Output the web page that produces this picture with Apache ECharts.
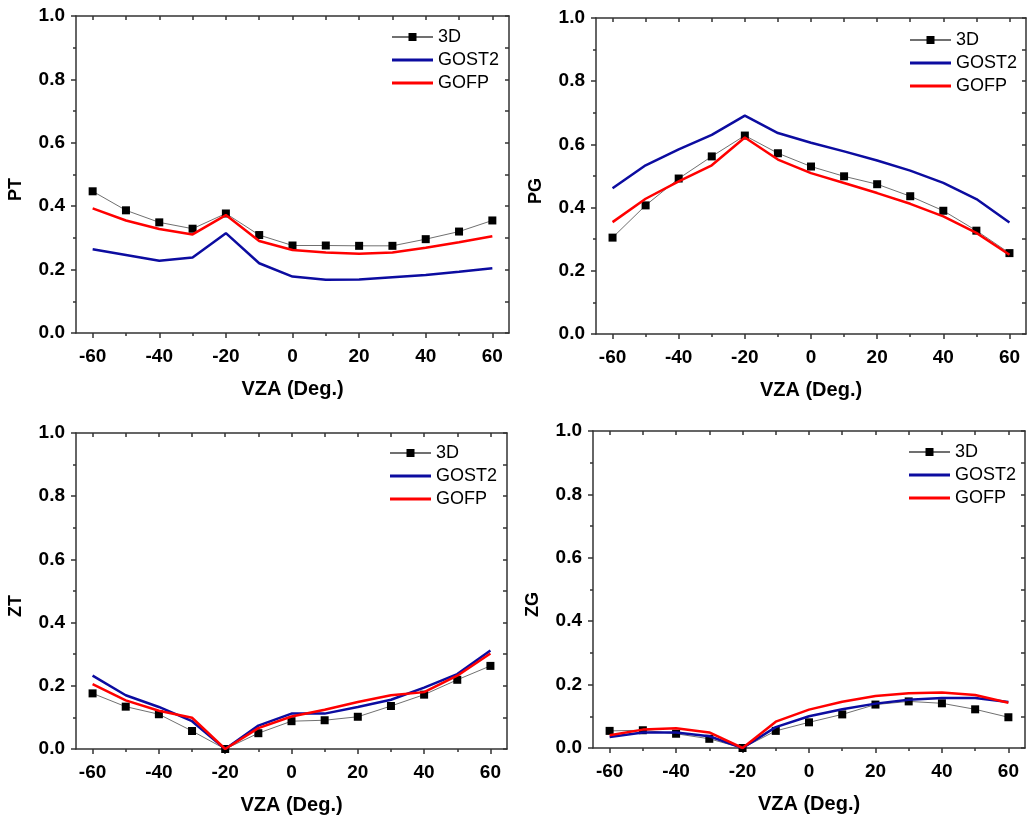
<!DOCTYPE html>
<html><head><meta charset="utf-8">
<script src="https://cdn.jsdelivr.net/npm/echarts@6/dist/echarts.min.js"></script>
<style>html,body{margin:0;padding:0;background:#fff}#c{width:1029px;height:817px}</style>
</head><body><div id="c"></div>
<script>
// ---- data ----
const vza = [-60, -50, -40, -30, -20, -10, 0, 10, 20, 30, 40, 50, 60];
const xMajorTicks = [-60, -40, -20, 0, 20, 40, 60];
const xMinorTicks = [-50, -30, -10, 10, 30, 50];
const seriesNames = ['3D', 'GOST2', 'GOFP'];
const panelNames = ['PT', 'PG', 'ZT', 'ZG'];
const xName = 'VZA (Deg.)';

const pt3D    = [0.447, 0.387, 0.349, 0.329, 0.377, 0.309, 0.276, 0.276, 0.275, 0.275, 0.296, 0.320, 0.355];
const ptGOST2 = [0.264, 0.246, 0.228, 0.238, 0.315, 0.220, 0.178, 0.168, 0.169, 0.176, 0.183, 0.193, 0.204];
const ptGOFP  = [0.393, 0.355, 0.328, 0.311, 0.372, 0.290, 0.262, 0.254, 0.250, 0.254, 0.269, 0.286, 0.305];

const pg3D    = [0.305, 0.407, 0.492, 0.562, 0.628, 0.572, 0.530, 0.499, 0.474, 0.436, 0.390, 0.327, 0.256];
const pgGOST2 = [0.461, 0.534, 0.584, 0.630, 0.691, 0.636, 0.605, 0.578, 0.549, 0.517, 0.478, 0.427, 0.353];
const pgGOFP  = [0.354, 0.428, 0.483, 0.534, 0.622, 0.552, 0.509, 0.478, 0.446, 0.412, 0.372, 0.320, 0.251];

const zt3D    = [0.176, 0.134, 0.110, 0.057, 0.000, 0.050, 0.088, 0.091, 0.102, 0.136, 0.172, 0.219, 0.263];
const ztGOST2 = [0.232, 0.170, 0.133, 0.088, 0.000, 0.074, 0.112, 0.112, 0.133, 0.156, 0.194, 0.237, 0.312];
const ztGOFP  = [0.205, 0.154, 0.121, 0.099, 0.000, 0.066, 0.103, 0.124, 0.149, 0.170, 0.180, 0.232, 0.302];

const zg3D    = [0.054, 0.056, 0.045, 0.029, 0.000, 0.054, 0.081, 0.106, 0.137, 0.147, 0.141, 0.122, 0.097];
const zgGOST2 = [0.035, 0.049, 0.049, 0.037, 0.000, 0.066, 0.100, 0.122, 0.140, 0.152, 0.158, 0.158, 0.145];
const zgGOFP  = [0.040, 0.058, 0.062, 0.049, 0.000, 0.083, 0.121, 0.146, 0.164, 0.173, 0.175, 0.167, 0.143];

const panelData = [
  [pt3D, ptGOST2, ptGOFP],
  [pg3D, pgGOST2, pgGOFP],
  [zt3D, ztGOST2, ztGOFP],
  [zg3D, zgGOST2, zgGOFP]
];

// ---- layout / style ----
const FONT = '"Liberation Sans", Arial, sans-serif';
const AX = '#333333';
const grids = [
  {left: 76, top: 16, width: 433, height: 317},
  {left: 596, top: 18, width: 430, height: 316},
  {left: 76, top: 433, width: 431, height: 316},
  {left: 593, top: 431, width: 432, height: 317}
];
const legendPos = [
  {left: 391, top: 26},
  {left: 909, top: 29},
  {left: 389, top: 442},
  {left: 908, top: 441}
];
const colors = ['#000000', '#0c0ca0', '#ff0000'];

const xAxes = [], yAxes = [], series = [], legends = [];
const axisLine = {show: true, onZero: false, lineStyle: {color: AX, width: 1.5}};
const tickLine = {color: AX, width: 1.5};

grids.forEach((g, gi) => {
  // main bottom x axis
  xAxes.push({
    gridIndex: gi, type: 'value', min: -65, max: 65, position: 'bottom',
    name: xName, nameLocation: 'middle', nameGap: 46,
    nameTextStyle: {fontFamily: FONT, fontSize: 20, fontWeight: 'bold', color: '#000'},
    axisLine: axisLine,
    axisTick: {show: true, length: 5, lineStyle: tickLine, customValues: xMajorTicks},
    axisLabel: {show: true, customValues: xMajorTicks, margin: 14, fontFamily: FONT, fontSize: 19, fontWeight: 'bold', color: '#000'},
    splitLine: {show: false}
  });
  // minor bottom ticks
  xAxes.push({
    gridIndex: gi, type: 'value', min: -65, max: 65, position: 'bottom',
    axisLine: {show: false},
    axisTick: {show: true, length: 3, lineStyle: tickLine, customValues: xMinorTicks},
    axisLabel: {show: false}, splitLine: {show: false}
  });
  // top frame
  xAxes.push({
    gridIndex: gi, type: 'value', min: -65, max: 65, position: 'top',
    axisLine: axisLine,
    axisTick: {show: true, inside: true, length: 4, lineStyle: tickLine, customValues: vza},
    axisLabel: {show: false}, splitLine: {show: false}
  });
  // main left y axis
  yAxes.push({
    gridIndex: gi, type: 'value', min: 0, max: 1, interval: 0.2, position: 'left',
    name: panelNames[gi], nameLocation: 'middle', nameGap: 51,
    nameTextStyle: {fontFamily: FONT, fontSize: 18, fontWeight: 'bold', color: '#000', padding: [0, 30, 0, 0]},
    axisLine: axisLine,
    axisTick: {show: true, length: 5, lineStyle: tickLine},
    minorTick: {show: true, splitNumber: 2, length: 3, lineStyle: tickLine},
    axisLabel: {margin: 11, fontFamily: FONT, fontSize: 19, fontWeight: 'bold', color: '#000', formatter: v => v.toFixed(1)},
    splitLine: {show: false}, minorSplitLine: {show: false}
  });
  // right frame
  yAxes.push({
    gridIndex: gi, type: 'value', min: 0, max: 1, interval: 0.1, position: 'right',
    axisLine: axisLine,
    axisTick: {show: true, inside: true, length: 4, lineStyle: tickLine},
    axisLabel: {show: false}, splitLine: {show: false}
  });

  const d = panelData[gi];
  seriesNames.forEach((nm, si) => {
    const s = {
      name: nm, type: 'line', xAxisIndex: gi * 3, yAxisIndex: gi * 2,
      data: vza.map((x, i) => [x, d[si][i]]),
      animation: false, z: 2 + si
    };
    if (si === 0) {
      Object.assign(s, {
        symbol: 'rect', symbolSize: 8, showSymbol: true,
        itemStyle: {color: '#000'},
        lineStyle: {color: '#707070', width: 1}
      });
    } else {
      Object.assign(s, {
        symbol: 'none', showSymbol: false,
        itemStyle: {color: colors[si]},
        lineStyle: {color: colors[si], width: 2.5}
      });
    }
    series.push(s);
  });

  legends.push({
    left: legendPos[gi].left, top: legendPos[gi].top, orient: 'vertical',
    padding: 0, itemGap: 1, itemWidth: 41, itemHeight: 10, selectedMode: false,
    textStyle: {fontFamily: FONT, fontSize: 18, color: '#000', lineHeight: 22},
    data: [
      {name: '3D'},
      {name: 'GOST2', icon: 'path://M0 0H41V3H0Z', itemStyle: {color: colors[1]}},
      {name: 'GOFP', icon: 'path://M0 0H41V3H0Z', itemStyle: {color: colors[2]}}
    ]
  });
});

const chart = echarts.init(document.getElementById('c'), null, {renderer: 'canvas'});
chart.setOption({
  animation: false,
  backgroundColor: '#fff',
  grid: grids.map(g => Object.assign({containLabel: false}, g)),
  xAxis: xAxes,
  yAxis: yAxes,
  legend: legends,
  series: series
});
</script>
</body></html>
